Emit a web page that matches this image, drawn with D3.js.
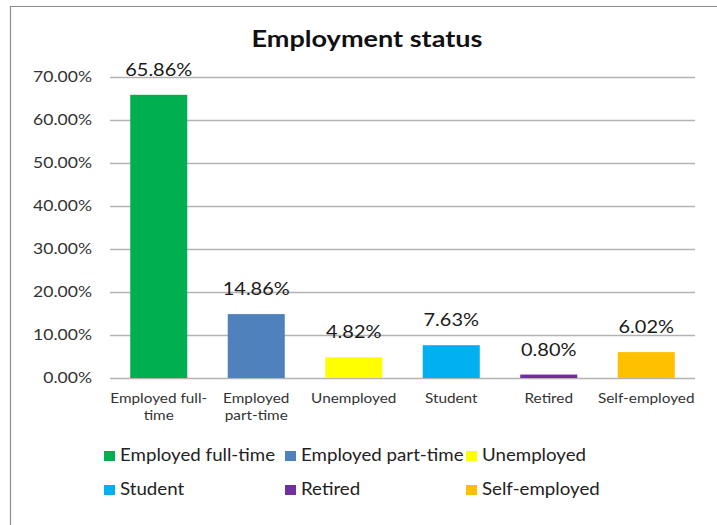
<!DOCTYPE html>
<html>
<head>
<meta charset="utf-8">
<script src="https://cdn.jsdelivr.net/npm/d3@7"></script>
<style>
  html, body { margin: 0; padding: 0; background: #fff; }
  svg { display: block; font-family: Lato, "Open Sans", sans-serif; }
</style>
</head>
<body>
<svg id="chart" width="717" height="525"></svg>
<script>
// Employment status shares (percent)
const categories = ["Employed full-time", "Employed part-time", "Unemployed", "Student", "Retired", "Self-employed"];
const values = [65.86, 14.86, 4.82, 7.63, 0.80, 6.02];
const colors = ["#00b050", "#4f81bd", "#ffff00", "#00b0f0", "#7030a0", "#ffc000"];
const axisLabels = [["Employed full-", "time"], ["Employed", "part-time"], ["Unemployed"], ["Student"], ["Retired"], ["Self-employed"]];
const yTicks = [0, 10, 20, 30, 40, 50, 60, 70];

const svg = d3.select("#chart");
const pct = d => d3.format(".2f")(d) + "%";

// text drawn with a slightly wide set, anchored at (x, y)
function wideText(parent, x, y, sx, anchor) {
  return parent.append("text")
    .attr("transform", `translate(${x},${y}) scale(${sx},1)`)
    .attr("text-anchor", anchor || "start");
}

// outer frame
svg.append("path")
  .attr("d", "M10.5,525 L10.5,6.5 L717,6.5")
  .attr("fill", "none").attr("stroke", "#8c8c8c").attr("stroke-width", 1.2);

const plot = { left: 110, right: 695, top: 77, bottom: 378 };

const x = d3.scaleBand().domain(categories).range([plot.left, plot.right]).paddingInner(0.415).paddingOuter(0.2075);
const y = d3.scaleLinear().domain([0, 70]).range([plot.bottom, plot.top]);

// title
wideText(svg, 367, 47, 1.23, "middle")
  .attr("font-size", 22).attr("font-weight", "bold").attr("fill", "#111")
  .text("Employment status");

// gridlines
const yAxis = d3.axisLeft(y).tickValues(yTicks).tickSize(-(plot.right - plot.left)).tickFormat("");
const gy = svg.append("g").attr("transform", `translate(${plot.left},0)`).call(yAxis);
gy.select(".domain").remove();
gy.selectAll(".tick line").attr("stroke", "#b3b3b3").attr("stroke-width", 1.5);

// y tick labels
const gyl = svg.append("g");
yTicks.forEach(t => {
  wideText(gyl, 92, y(t) + 5, 1.17, "end")
    .attr("font-size", 15).attr("fill", "#333").text(pct(t));
});

// bars
svg.append("g").selectAll("rect").data(values).join("rect")
  .attr("x", (d, i) => x(categories[i]))
  .attr("width", x.bandwidth())
  .attr("y", d => y(d))
  .attr("height", d => y(0) - y(d))
  .attr("fill", (d, i) => colors[i]);

// value labels
const gv = svg.append("g");
values.forEach((v, i) => {
  wideText(gv, x(categories[i]) + x.bandwidth() / 2, y(v) - 19, 1.14, "middle")
    .attr("font-size", 17.5).attr("fill", "#1a1a1a").text(pct(v));
});

// category labels
const gx = svg.append("g");
axisLabels.forEach((lines, i) => {
  lines.forEach((ln, j) => {
    wideText(gx, x(categories[i]) + x.bandwidth() / 2, 403 + j * 17, 1.18, "middle")
      .attr("font-size", 13).attr("fill", "#333").text(ln);
  });
});

// legend
const legendCols = [104, 285, 466];
const legendRows = [456, 490];
const lg = svg.append("g");
categories.forEach((c, i) => {
  const cx = legendCols[i % 3], cy = legendRows[Math.floor(i / 3)];
  lg.append("rect").attr("x", cx).attr("y", cy - 5).attr("width", 11).attr("height", 10).attr("fill", colors[i]);
  wideText(lg, cx + 16, cy + 5, 1.1, "start")
    .attr("font-size", 17).attr("fill", "#222").text(c);
});
</script>
</body>
</html>
